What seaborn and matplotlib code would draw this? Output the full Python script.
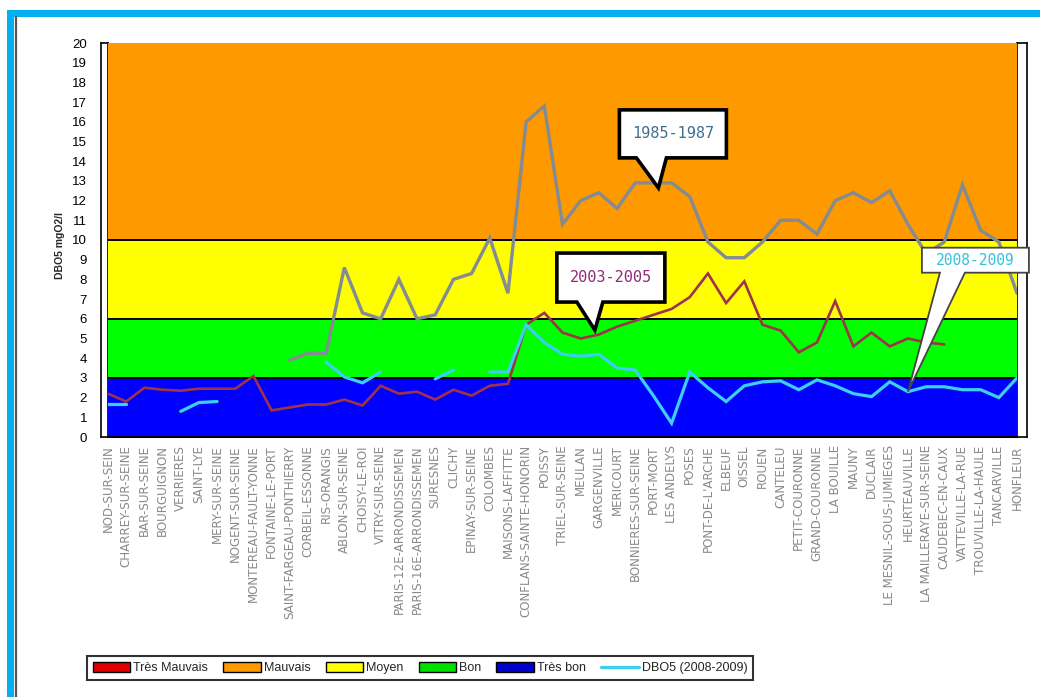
import numpy as np
import pandas as pd
import matplotlib
matplotlib.use("Agg")
import matplotlib.pyplot as plt
import seaborn as sns
from matplotlib.patches import Patch, Polygon, Rectangle
from matplotlib.lines import Line2D
from matplotlib.transforms import Affine2D, ScaledTranslation

nan = np.nan

# Stations along the Seine, upstream to downstream
stations = [
    "NOD-SUR-SEIN", "CHARREY-SUR-SEINE", "BAR-SUR-SEINE", "BOURGUIGNON", "VERRIERES",
    "SAINT-LYE", "MERY-SUR-SEINE", "NOGENT-SUR-SEINE", "MONTEREAU-FAULT-YONNE",
    "FONTAINE-LE-PORT", "SAINT-FARGEAU-PONTHIERRY", "CORBEIL-ESSONNE", "RIS-ORANGIS",
    "ABLON-SUR-SEINE", "CHOISY-LE-ROI", "VITRY-SUR-SEINE", "PARIS-12E-ARRONDISSEMEN",
    "PARIS-16E-ARRONDISSEMEN", "SURESNES", "CLICHY", "EPINAY-SUR-SEINE", "COLOMBES",
    "MAISONS-LAFFITTE", "CONFLANS-SAINTE-HONORIN", "POISSY", "TRIEL-SUR-SEINE", "MEULAN",
    "GARGENVILLE", "MERICOURT", "BONNIERES-SUR-SEINE", "PORT-MORT", "LES ANDELYS",
    "POSES", "PONT-DE-L'ARCHE", "ELBEUF", "OISSEL", "ROUEN", "CANTELEU",
    "PETIT-COURONNE", "GRAND-COURONNE", "LA BOUILLE", "MAUNY", "DUCLAIR",
    "LE MESNIL-SOUS-JUMIEGES", "HEURTEAUVILLE", "LA MAILLERAYE-SUR-SEINE",
    "CAUDEBEC-EN-CAUX", "VATTEVILLE-LA-RUE", "TROUVILLE-LA-HAULE", "TANCARVILLE",
    "HONFLEUR",
]

# DBO5 (mgO2/l) per station and period
dbo5_1985_1987 = [nan] * 10 + [
    3.9, 4.25, 4.25, 8.6, 6.3, 6.0, 8.0, 6.0, 6.2, 8.0,
    8.3, 10.1, 7.3, 16.0, 16.8, 10.8, 12.0, 12.4, 11.6, 12.9,
    12.9, 12.9, 12.2, 9.9, 9.1, 9.1, 9.9, 11.0, 11.0, 10.3,
    12.0, 12.4, 11.9, 12.5, 10.8, 9.3, 9.9, 12.8, 10.5, 9.9,
    7.3,
]
dbo5_2003_2005 = [
    2.2, 1.8, 2.5, 2.4, 2.35, 2.45, 2.45, 2.45, 3.1, 1.35,
    1.5, 1.65, 1.65, 1.9, 1.6, 2.6, 2.2, 2.3, 1.9, 2.4,
    2.1, 2.6, 2.7, 5.7, 6.3, 5.3, 5.0, 5.2, 5.6, 5.9,
    6.2, 6.5, 7.1, 8.3, 6.8, 7.9, 5.7, 5.4, 4.3, 4.8,
    6.9, 4.6, 5.3, 4.6, 5.0, 4.8, 4.7,
] + [nan] * 4
dbo5_2008_2009 = [
    1.65, 1.65, nan, nan, 1.3, 1.75, 1.8, nan, nan, nan,
    nan, nan, 3.8, 3.05, 2.75, 3.3, nan, nan, 2.95, 3.4,
    nan, 3.3, 3.3, 5.7, 4.8, 4.2, 4.1, 4.2, 3.5, 3.4,
    2.1, 0.7, 3.3, 2.5, 1.8, 2.6, 2.8, 2.85, 2.4, 2.9,
    2.6, 2.2, 2.05, 2.8, 2.3, 2.55, 2.55, 2.4, 2.4, 2.0,
    3.0,
]

# Quality classes (upper bounds) and colours
class_bounds = [0, 3, 6, 10, 20]
class_colors = ["#0000FF", "#00FF00", "#FFFF00", "#FF9900"]
legend_labels = ["Très Mauvais", "Mauvais", "Moyen", "Bon", "Très bon", "DBO5 (2008-2009)"]
legend_colors = ["#E00000", "#FF9900", "#FFFF00", "#00E000", "#0000CC"]

period_labels = ["1985-1987", "2003-2005", "2008-2009"]
line_colors = ["#838B93", "#9E3349", "#3CCFF0"]
text_colors = ["#3F6F8F", "#8E2A78", "#36C0DE"]

sns.set_style("white")
plt.rcParams["font.family"] = ["Liberation Sans", "DejaVu Sans"]

W, H = 1040, 697
fig = plt.figure(figsize=(W / 100, H / 100), dpi=100)
fig.patch.set_facecolor("white")

x0, x1, ytop, ybot = 108, 1017, 43, 437
ax = fig.add_axes([x0 / W, 1 - ybot / H, (x1 - x0) / W, (ybot - ytop) / H])
ax.set_zorder(5)

# Quality bands
for lo, hi, c in zip(class_bounds[:-1], class_bounds[1:], class_colors):
    ax.axhspan(lo, hi, color=c, lw=0, zorder=0)
for b in class_bounds[1:-1]:
    ax.axhline(b, color="black", lw=1.4, zorder=1)

# Long-form table, with a segment id so gaps in a series stay open
frames = []
n = len(stations)
for label, vals in zip(period_labels, [dbo5_1985_1987, dbo5_2003_2005, dbo5_2008_2009]):
    v = np.asarray(vals, dtype=float)
    seg = np.cumsum(np.isnan(v))
    df = pd.DataFrame({"pos": np.arange(n), "dbo5": v, "seg": seg, "period": label})
    frames.append(df.dropna())
data = pd.concat(frames, ignore_index=True)

widths = {"1985-1987": 2.4, "2003-2005": 1.9, "2008-2009": 2.3}
for label, color in zip(period_labels, line_colors):
    sub = data[data["period"] == label]
    sns.lineplot(data=sub, x="pos", y="dbo5", units="seg", estimator=None,
                 color=color, lw=widths[label], ax=ax, zorder=3,
                 solid_joinstyle="miter", legend=False)

ax.set_xlim(0, n - 1)
ax.set_ylim(0, 20)
ax.set_xlabel("")
ax.set_ylabel("")
ax.set_yticks([])
ax.set_xticks(range(n))
ax.set_xticklabels(stations, rotation=90, fontsize=8.6, color="#8a8a8a", va="top",
                   family="DejaVu Sans")
ax.tick_params(axis="x", direction="out", length=5, width=1.2, color="black", pad=1.0)
for s in ["top", "right", "left"]:
    ax.spines[s].set_visible(False)
ax.spines["bottom"].set_color("black")
ax.spines["bottom"].set_linewidth(1.5)

# Left value strip with ticks and labels
axl = fig.add_axes([101 / W, 1 - ybot / H, 7 / W, (ybot - ytop) / H])
axl.set_ylim(0, 20)
axl.set_xticks([])
axl.set_yticks(range(0, 21))
axl.tick_params(axis="y", direction="inout", length=14, width=1.3, labelsize=9.5,
                pad=3, colors="black")
axl.set_facecolor("white")
for s in axl.spines.values():
    s.set_color("black")
    s.set_linewidth(1.2)

# Right strip
axr = fig.add_axes([x1 / W, 1 - ybot / H, 10 / W, (ybot - ytop) / H])
axr.set_ylim(0, 20)
axr.set_xticks([])
axr.set_yticks(range(0, 21))
axr.tick_params(axis="y", direction="in", length=6, width=1.3, labelleft=False)
axr.set_facecolor("white")
for s in axr.spines.values():
    s.set_color("black")
    s.set_linewidth(1.2)

fig.text(60 / W, 1 - 245 / H, "DBO5 mgO2/l", rotation=90, ha="center", va="center",
         fontsize=7.5, fontweight="bold")


def callout(xd, yd, text, tcolor, box, base, lw, ec, fsize, dx=0.0, dy=0.0):
    left, right, bottom, top = box
    verts = [(0, 0), (base[1], bottom), (right, bottom), (right, top),
             (left, top), (left, bottom), (base[0], bottom)]
    trans = (Affine2D().translate(dx, dy).scale(fig.dpi / 100)
             + ScaledTranslation(xd, yd, ax.transData))
    ax.add_patch(Polygon(verts, closed=True, fc="white", ec=ec, lw=lw,
                         transform=trans, clip_on=False, zorder=6,
                         joinstyle="miter"))
    ax.annotate(text, xy=(xd, yd), xycoords="data",
                xytext=((left + right) / 2 + dx, (bottom + top) / 2 + dy),
                textcoords="offset pixels", ha="center", va="center",
                color=tcolor, fontsize=fsize, family="DejaVu Sans Mono",
                zorder=7, annotation_clip=False)


callout(30, dbo5_1985_1987[30], "1985-1987", text_colors[0],
        (-39, 68, 30, 78), (-22, 8), 2.6, "black", 11, dx=5, dy=-5)
callout(27, dbo5_2003_2005[27], "2003-2005", text_colors[1],
        (-38, 70, 28, 77), (-18, 8), 2.6, "black", 11, dx=-4, dy=4.5)
callout(44, dbo5_2008_2009[44], "2008-2009", text_colors[2],
        (14, 121, 119, 144), (32, 57), 1.3, "#444444", 10.5)

# Legend
handles = [Patch(fc=c, ec="black", lw=1.0) for c in legend_colors]
handles.append(Line2D([0], [0], color=line_colors[2], lw=2.3))
leg = fig.legend(handles, legend_labels, loc="center",
                 bbox_to_anchor=(420 / W, 1 - 668 / H), ncol=6, frameon=True,
                 fancybox=False, edgecolor="black", fontsize=9, handlelength=3.0,
                 handleheight=0.8, columnspacing=1.2, handletextpad=0.25,
                 borderpad=0.45, borderaxespad=0)
leg.get_frame().set_linewidth(1.5)

# Page frame
cyan = "#00B0F0"
fig.add_artist(Rectangle((7 / W, 0), 7 / W, 1 - 10 / H, transform=fig.transFigure,
                         color=cyan, lw=0))
fig.add_artist(Rectangle((7 / W, 1 - 17 / H), 1 - 7 / W, 7 / H, transform=fig.transFigure,
                         color=cyan, lw=0))
fig.add_artist(Line2D([15.5 / W, 15.5 / W], [0, 1 - 17 / H], transform=fig.transFigure,
                      color="#555555", lw=1.6))

fig.savefig("out.png", dpi=100, facecolor="white")
